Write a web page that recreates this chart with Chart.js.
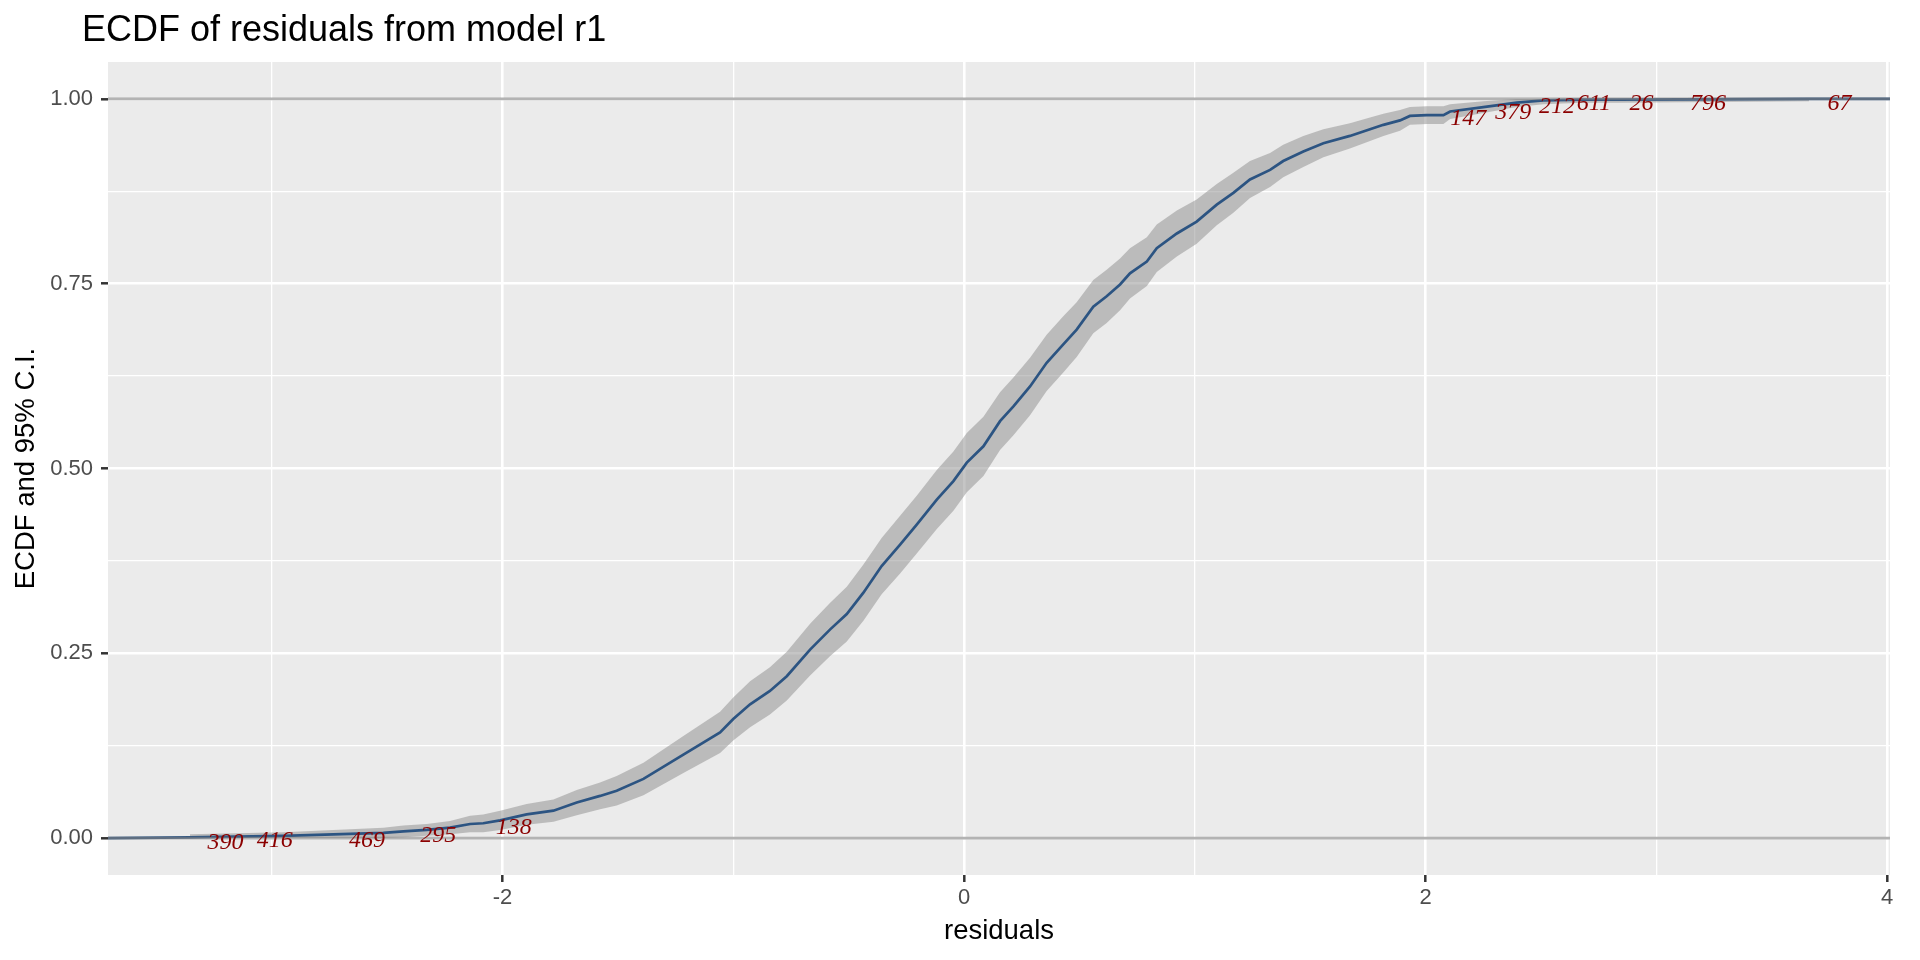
<!DOCTYPE html>
<html>
<head>
<meta charset="utf-8">
<script src="https://cdn.jsdelivr.net/npm/chart.js@4.4.1/dist/chart.umd.min.js"></script>
<style>
  html, body { margin: 0; padding: 0; background: #ffffff; }
  #wrap { width: 1920px; height: 960px; position: relative; }
</style>
</head>
<body>
<div id="wrap"><canvas id="ecdfChart"></canvas></div>
<script>
// axis limits (ggplot default 5% expansion around the data)
const X_MIN = -3.709, X_MAX = 4.012;
const Y_MIN = -0.05, Y_MAX = 1.05;
const xTicks = [-3, -2, -1, 0, 1, 2, 3, 4];
const yTicks = [0, 0.125, 0.25, 0.375, 0.5, 0.625, 0.75, 0.875, 1];
const hLines = [0, 1];

// ECDF of residuals
const resid = [-3.354, -2.949, -2.732, -2.516, -2.429, -2.328, -2.227, -2.140, -2.083, -2.010,
  -1.895, -1.779, -1.678, -1.577, -1.505, -1.389, -1.216, -1.057, -1.000, -0.927,
  -0.841, -0.768, -0.667, -0.581, -0.508, -0.436, -0.357, -0.277, -0.205, -0.118,
  -0.046, 0.012, 0.084, 0.156, 0.214, 0.286, 0.358, 0.430, 0.488, 0.560,
  0.618, 0.676, 0.719, 0.792, 0.835, 0.922, 1.008, 1.095, 1.167, 1.239,
  1.326, 1.383, 1.470, 1.557, 1.672, 1.759, 1.817, 1.889, 1.932, 2.005,
  2.077, 2.106, 2.250, 2.395, 2.510, 2.680, 2.828, 3.661];
const ecdf = [0.001, 0.003, 0.005, 0.007, 0.009, 0.011, 0.014, 0.019, 0.020, 0.024,
  0.032, 0.037, 0.048, 0.057, 0.064, 0.080, 0.113, 0.143, 0.161, 0.181,
  0.199, 0.219, 0.255, 0.282, 0.303, 0.332, 0.368, 0.397, 0.424, 0.458,
  0.483, 0.508, 0.530, 0.564, 0.584, 0.611, 0.643, 0.668, 0.688, 0.719,
  0.733, 0.749, 0.764, 0.780, 0.798, 0.818, 0.834, 0.857, 0.873, 0.891,
  0.904, 0.916, 0.929, 0.940, 0.950, 0.959, 0.965, 0.971, 0.977, 0.978,
  0.978, 0.983, 0.989, 0.995, 0.998, 0.999, 0.999, 1.000];
const ciLower = [0.000, 0.000, 0.000, 0.000, 0.001, 0.003, 0.005, 0.008, 0.008, 0.011,
  0.018, 0.022, 0.031, 0.039, 0.044, 0.058, 0.088, 0.115, 0.132, 0.150,
  0.167, 0.186, 0.220, 0.246, 0.266, 0.294, 0.330, 0.358, 0.385, 0.418,
  0.443, 0.468, 0.490, 0.525, 0.545, 0.572, 0.605, 0.630, 0.651, 0.683,
  0.697, 0.714, 0.730, 0.747, 0.766, 0.787, 0.804, 0.829, 0.846, 0.866,
  0.881, 0.894, 0.908, 0.921, 0.933, 0.943, 0.950, 0.957, 0.965, 0.966,
  0.966, 0.973, 0.981, 0.989, 0.993, 0.995, 0.995, 0.997];
const ciUpper = [0.005, 0.008, 0.011, 0.014, 0.017, 0.019, 0.023, 0.030, 0.032, 0.037,
  0.046, 0.052, 0.065, 0.075, 0.084, 0.102, 0.138, 0.171, 0.190, 0.212,
  0.231, 0.252, 0.290, 0.318, 0.340, 0.370, 0.406, 0.436, 0.463, 0.498,
  0.523, 0.548, 0.570, 0.603, 0.623, 0.650, 0.681, 0.706, 0.725, 0.755,
  0.769, 0.784, 0.798, 0.813, 0.830, 0.849, 0.864, 0.885, 0.900, 0.916,
  0.927, 0.938, 0.950, 0.959, 0.967, 0.975, 0.980, 0.985, 0.989, 0.990,
  0.990, 0.993, 0.997, 1.000, 1.000, 1.000, 1.000, 1.000];

// labelled observations
const obsLabels = ['390', '416', '469', '295', '138', '147', '379', '212', '611', '26', '796', '67'];
const obsX = [-3.200, -2.987, -2.587, -2.278, -1.951, 2.185, 2.380, 2.569, 2.729, 2.935, 3.223, 3.793];
const obsY = [-0.006, -0.003, -0.003, 0.003, 0.014, 0.973, 0.981, 0.989, 0.993, 0.994, 0.994, 0.994];

const SANS = '"Liberation Sans", Arial, Helvetica, sans-serif';
const TITLE = 'ECDF of residuals from model r1';

const ecdfPts = resid.map((x, i) => ({ x: x, y: ecdf[i] }));
// stat_ecdf pads the step line out to -Inf / Inf
ecdfPts.unshift({ x: X_MIN, y: 0 });
ecdfPts.push({ x: X_MAX, y: 1 });
const upperPts = resid.map((x, i) => ({ x: x, y: ciUpper[i] }));
const lowerPts = resid.map((x, i) => ({ x: x, y: ciLower[i] }));

const panelBg = {
  id: 'panelBg',
  beforeDraw(chart) {
    const { ctx, chartArea: a } = chart;
    ctx.save();
    ctx.fillStyle = '#EBEBEB';
    ctx.fillRect(a.left, a.top, a.right - a.left, a.bottom - a.top);
    ctx.restore();
  }
};

const overlays = {
  id: 'overlays',
  afterDatasetsDraw(chart) {
    const { ctx, chartArea: a, scales } = chart;
    ctx.save();
    ctx.beginPath();
    ctx.rect(a.left, a.top, a.right - a.left, a.bottom - a.top);
    ctx.clip();
    // reference lines at 0 and 1
    ctx.strokeStyle = 'rgba(128,128,128,0.6)';
    ctx.lineWidth = 2.7;
    hLines.forEach(v => {
      const y = scales.y.getPixelForValue(v);
      ctx.beginPath();
      ctx.moveTo(a.left, y);
      ctx.lineTo(a.right, y);
      ctx.stroke();
    });
    // observation labels
    ctx.fillStyle = '#8B0000';
    ctx.font = 'italic 24px "Liberation Serif", "Times New Roman", serif';
    ctx.textAlign = 'center';
    ctx.textBaseline = 'middle';
    obsLabels.forEach((t, i) => {
      ctx.fillText(t, scales.x.getPixelForValue(obsX[i]), scales.y.getPixelForValue(obsY[i]));
    });
    ctx.restore();
  },
  afterDraw(chart) {
    const { ctx } = chart;
    ctx.save();
    ctx.fillStyle = '#000000';
    ctx.font = '36px ' + SANS;
    ctx.textAlign = 'left';
    ctx.textBaseline = 'alphabetic';
    ctx.fillText(TITLE, 82, 41);
    ctx.restore();
  }
};

function isMajor(v, step) {
  return Math.abs(v / step - Math.round(v / step)) < 1e-9;
}

new Chart(document.getElementById('ecdfChart'), {
  type: 'line',
  data: {
    datasets: [
      {
        label: 'ECDF',
        data: ecdfPts,
        borderColor: '#2C5482',
        borderWidth: 2.7,
        pointRadius: 0,
        tension: 0,
        fill: false
      },
      {
        label: 'upper',
        data: upperPts,
        borderWidth: 0,
        borderColor: 'rgba(0,0,0,0)',
        backgroundColor: 'rgba(140,140,140,0.5)',
        pointRadius: 0,
        tension: 0,
        fill: '+1'
      },
      {
        label: 'lower',
        data: lowerPts,
        borderWidth: 0,
        borderColor: 'rgba(0,0,0,0)',
        pointRadius: 0,
        tension: 0,
        fill: false
      }
    ]
  },
  options: {
    responsive: true,
    maintainAspectRatio: false,
    animation: false,
    devicePixelRatio: 1,
    layout: { padding: { left: 0, right: 30, top: 62, bottom: 0 } },
    plugins: {
      legend: { display: false },
      tooltip: { enabled: false },
      title: { display: false }
    },
    scales: {
      x: {
        type: 'linear',
        min: X_MIN,
        max: X_MAX,
        afterBuildTicks: s => { s.ticks = xTicks.map(v => ({ value: v })); },
        afterFit: s => { s.height = 85; },
        border: { display: false },
        grid: {
          color: '#FFFFFF',
          lineWidth: c => isMajor(c.tick.value, 2) ? 2.6 : 1.3,
          tickColor: c => isMajor(c.tick.value, 2) ? '#333333' : 'rgba(0,0,0,0)',
          tickLength: 7,
          tickWidth: 2.5
        },
        ticks: {
          autoSkip: false,
          maxRotation: 0,
          padding: 3,
          color: '#4D4D4D',
          font: { family: SANS, size: 22 },
          callback: v => isMajor(v, 2) ? String(v) : ''
        },
        title: {
          display: true,
          text: 'residuals',
          color: '#000000',
          font: { family: SANS, size: 27.5 },
          padding: { top: 0, bottom: 12 }
        }
      },
      y: {
        type: 'linear',
        min: Y_MIN,
        max: Y_MAX,
        afterBuildTicks: s => { s.ticks = yTicks.map(v => ({ value: v })); },
        afterFit: s => { s.width = 108; },
        border: { display: false },
        grid: {
          color: '#FFFFFF',
          lineWidth: c => isMajor(c.tick.value, 0.25) ? 2.6 : 1.3,
          tickColor: c => isMajor(c.tick.value, 0.25) ? '#333333' : 'rgba(0,0,0,0)',
          tickLength: 7,
          tickWidth: 2.5
        },
        ticks: {
          autoSkip: false,
          padding: 8,
          color: '#4D4D4D',
          font: { family: SANS, size: 22 },
          callback: v => isMajor(v, 0.25) ? v.toFixed(2) : ''
        },
        title: {
          display: true,
          text: 'ECDF and 95% C.I.',
          color: '#000000',
          font: { family: SANS, size: 27.5 },
          padding: { top: 10, bottom: 0 }
        }
      }
    }
  },
  plugins: [panelBg, overlays]
});
</script>
</body>
</html>
